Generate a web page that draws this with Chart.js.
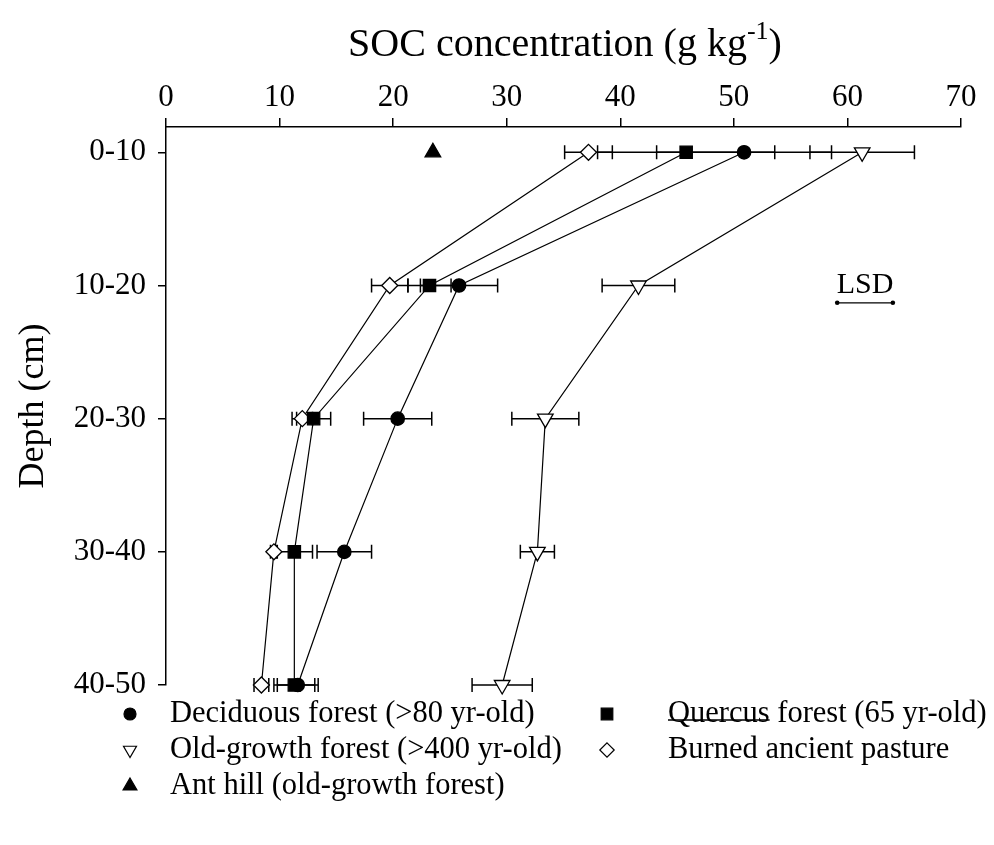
<!DOCTYPE html>
<html>
<head>
<meta charset="utf-8">
<script src="https://cdn.jsdelivr.net/npm/chart.js@4.4.0/dist/chart.umd.min.js"></script>
<style>
  html, body { margin: 0; padding: 0; background: #fff; }
  #wrap { width: 994px; height: 845px; }
</style>
</head>
<body>
<div id="wrap"><canvas id="c" width="994" height="845"></canvas></div>
<script>
// Soil depth classes (cm) and SOC concentration (g/kg) with error half-widths
const depths = ['0-10', '10-20', '20-30', '30-40', '40-50'];
const xTicks = [0, 10, 20, 30, 40, 50, 60, 70];

const deciduous    = [50.9, 25.8, 20.4, 15.7, 11.6];
const deciduousErr = [7.7, 3.4, 3.0, 2.4, 1.8];
const quercus      = [45.8, 23.2, 13.0, 11.3, 11.3];
const quercusErr   = [7.8, 1.9, 1.5, 1.6, 1.8];
const oldGrowth    = [61.3, 41.6, 33.4, 32.7, 29.6];
const oldGrowthErr = [4.6, 3.2, 2.95, 1.5, 2.65];
const burned       = [37.2, 19.7, 12.0, 9.5, 8.4];
const burnedErr    = [2.1, 1.6, 0.9, 0.3, 0.65];
const antHill      = [23.5];

// Least significant difference bar
const lsdFrom = 59.1;
const lsdValue = 4.9;
const lsdDepth = 1.13;

const FONT = '"Liberation Serif", "Times New Roman", serif';

function toPoints(vals) {
  return vals.map((v, i) => ({ x: v, y: i }));
}

const series = [
  { label: 'Deciduous forest (>80 yr-old)', data: deciduous, err: deciduousErr, style: 'circle', radius: 6.7, legendR: 6, fill: '#000', rot: 0, line: true },
  { label: 'Quercus forest (65 yr-old)', data: quercus, err: quercusErr, style: 'rect', radius: 8.7, legendR: 8.2, fill: '#000', rot: 0, line: true },
  { label: 'Old-growth forest (>400 yr-old)', data: oldGrowth, err: oldGrowthErr, style: 'triangle', radius: 9, legendR: 7.5, fill: '#fff', rot: 180, line: true },
  { label: 'Burned ancient pasture', data: burned, err: burnedErr, style: 'rectRot', radius: 8, legendR: 7.2, fill: '#fff', rot: 0, line: true },
  { label: 'Ant hill (old-growth forest)', data: antHill, err: null, style: 'triangle', radius: 9, legendR: 8, fill: '#000', rot: 0, line: false }
];

const datasets = series.map(s => ({
  label: s.label,
  data: toPoints(s.data),
  errors: s.err,
  showLine: s.line,
  borderColor: '#000',
  borderWidth: 1.2,
  tension: 0,
  pointStyle: s.style,
  pointRadius: s.radius,
  pointRotation: s.rot,
  pointBackgroundColor: s.fill,
  pointBorderColor: '#000',
  pointBorderWidth: 1.3,
  pointHoverRadius: s.radius,
  clip: false
}));

// Horizontal error bars, drawn beneath the markers
const errorBars = {
  id: 'errorBars',
  beforeDatasetsDraw(chart) {
    const ctx = chart.ctx;
    const xs = chart.scales.x, ys = chart.scales.y;
    const cap = 7;
    ctx.save();
    ctx.strokeStyle = '#000';
    ctx.lineWidth = 1.5;
    chart.data.datasets.forEach(ds => {
      if (!ds.errors) return;
      ds.data.forEach((p, i) => {
        const e = ds.errors[i];
        const x1 = xs.getPixelForValue(p.x - e);
        const x2 = xs.getPixelForValue(p.x + e);
        const y = ys.getPixelForValue(p.y);
        ctx.beginPath();
        ctx.moveTo(x1, y); ctx.lineTo(x2, y);
        ctx.moveTo(x1, y - cap); ctx.lineTo(x1, y + cap);
        ctx.moveTo(x2, y - cap); ctx.lineTo(x2, y + cap);
        ctx.stroke();
      });
    });
    ctx.restore();
  }
};

function marker(ctx, style, x, y, r, fill, rot) {
  ctx.save();
  ctx.fillStyle = fill;
  ctx.strokeStyle = '#000';
  ctx.lineWidth = 1.2;
  ctx.beginPath();
  if (style === 'circle') {
    ctx.arc(x, y, r, 0, Math.PI * 2);
  } else if (style === 'rect') {
    const h = r * Math.SQRT1_2;
    ctx.rect(x - h, y - h, 2 * h, 2 * h);
  } else if (style === 'rectRot') {
    ctx.moveTo(x, y - r); ctx.lineTo(x + r, y); ctx.lineTo(x, y + r); ctx.lineTo(x - r, y);
    ctx.closePath();
  } else if (style === 'triangle') {
    let a = rot * Math.PI / 180;
    for (let k = 0; k < 3; k++) {
      const px = x + Math.sin(a) * r, py = y - Math.cos(a) * r;
      if (k === 0) ctx.moveTo(px, py); else ctx.lineTo(px, py);
      a += 2 * Math.PI / 3;
    }
    ctx.closePath();
  }
  ctx.fill();
  ctx.stroke();
  ctx.restore();
}

// Axis title with superscript, LSD bar and two-column legend
const decorations = {
  id: 'decorations',
  afterDraw(chart) {
    const ctx = chart.ctx;
    const xs = chart.scales.x, ys = chart.scales.y;
    ctx.save();
    ctx.fillStyle = '#000';
    ctx.textBaseline = 'alphabetic';

    // top axis title
    const main = 'SOC concentration (g kg';
    const sup = '-1';
    const close = ')';
    ctx.font = '40px ' + FONT;
    const wMain = ctx.measureText(main).width;
    const wClose = ctx.measureText(close).width;
    ctx.font = '26px ' + FONT;
    const wSup = ctx.measureText(sup).width;
    const total = wMain + wSup + wClose;
    const tx = 565 - total / 2;
    const base = 56;
    ctx.font = '40px ' + FONT;
    ctx.textAlign = 'left';
    ctx.fillText(main, tx, base);
    ctx.font = '26px ' + FONT;
    ctx.fillText(sup, tx + wMain, base - 17);
    ctx.font = '40px ' + FONT;
    ctx.fillText(close, tx + wMain + wSup, base);

    // LSD
    const lx1 = xs.getPixelForValue(lsdFrom);
    const lx2 = xs.getPixelForValue(lsdFrom + lsdValue);
    const ly = ys.getPixelForValue(lsdDepth);
    ctx.strokeStyle = '#000';
    ctx.lineWidth = 1.2;
    ctx.beginPath(); ctx.moveTo(lx1, ly); ctx.lineTo(lx2, ly); ctx.stroke();
    [lx1, lx2].forEach(px => { ctx.beginPath(); ctx.arc(px, ly, 2.3, 0, Math.PI * 2); ctx.fill(); });
    ctx.font = '30px ' + FONT;
    ctx.textAlign = 'center';
    ctx.fillText('LSD', (lx1 + lx2) / 2, ly - 10);

    // legend
    const order = [
      { s: 0, col: 0, row: 0 }, { s: 1, col: 1, row: 0 },
      { s: 2, col: 0, row: 1 }, { s: 3, col: 1, row: 1 },
      { s: 4, col: 0, row: 2 }
    ];
    const colMarkX = [130, 607], colTextX = [170, 668];
    const rowY = [714, 750, 786];
    ctx.font = '30.5px ' + FONT;
    ctx.textAlign = 'left';
    ctx.textBaseline = 'middle';
    order.forEach(o => {
      const s = series[o.s];
      const y = rowY[o.row];
      marker(ctx, s.style, colMarkX[o.col], y, s.legendR, s.fill, s.rot);
      ctx.fillStyle = '#000';
      ctx.fillText(s.label, colTextX[o.col], y);
      if (o.s === 1) {
        const w = ctx.measureText('Quercus').width;
        ctx.lineWidth = 1.3;
        ctx.beginPath();
        ctx.moveTo(colTextX[o.col], y + 6);
        ctx.lineTo(colTextX[o.col] + w, y + 6);
        ctx.stroke();
      }
    });
    ctx.restore();
  }
};

new Chart(document.getElementById('c'), {
  type: 'scatter',
  data: { datasets },
  plugins: [errorBars, decorations],
  options: {
    responsive: false,
    devicePixelRatio: 1,
    animation: false,
    layout: { padding: { left: 0, top: 0, right: 33, bottom: 160 } },
    plugins: { legend: { display: false }, tooltip: { enabled: false }, title: { display: false } },
    scales: {
      x: {
        type: 'linear',
        position: 'top',
        min: 0, max: 70,
        afterBuildTicks(axis) { axis.ticks = xTicks.map(v => ({ value: v })); },
        afterFit(axis) { axis.height = 127; },
        ticks: { color: '#000', font: { family: FONT, size: 31 }, padding: 2 },
        grid: { drawOnChartArea: false, drawTicks: true, tickLength: 9, color: '#000', lineWidth: 1.5 },
        border: { display: true, color: '#000', width: 1.5 }
      },
      y: {
        type: 'linear',
        position: 'left',
        reverse: true,
        min: -0.19, max: 4,
        afterBuildTicks(axis) { axis.ticks = depths.map((d, i) => ({ value: i })); },
        afterFit(axis) { axis.width = 166; },
        ticks: { color: '#000', font: { family: FONT, size: 31 }, padding: 12, callback: v => depths[v] },
        grid: { drawOnChartArea: false, drawTicks: true, tickLength: 8, color: '#000', lineWidth: 1.5 },
        border: { display: true, color: '#000', width: 1.5 },
        title: { display: true, text: 'Depth (cm)', color: '#000', font: { family: FONT, size: 36 }, padding: { top: 12, bottom: 0 } }
      }
    }
  }
});
</script>
</body>
</html>
